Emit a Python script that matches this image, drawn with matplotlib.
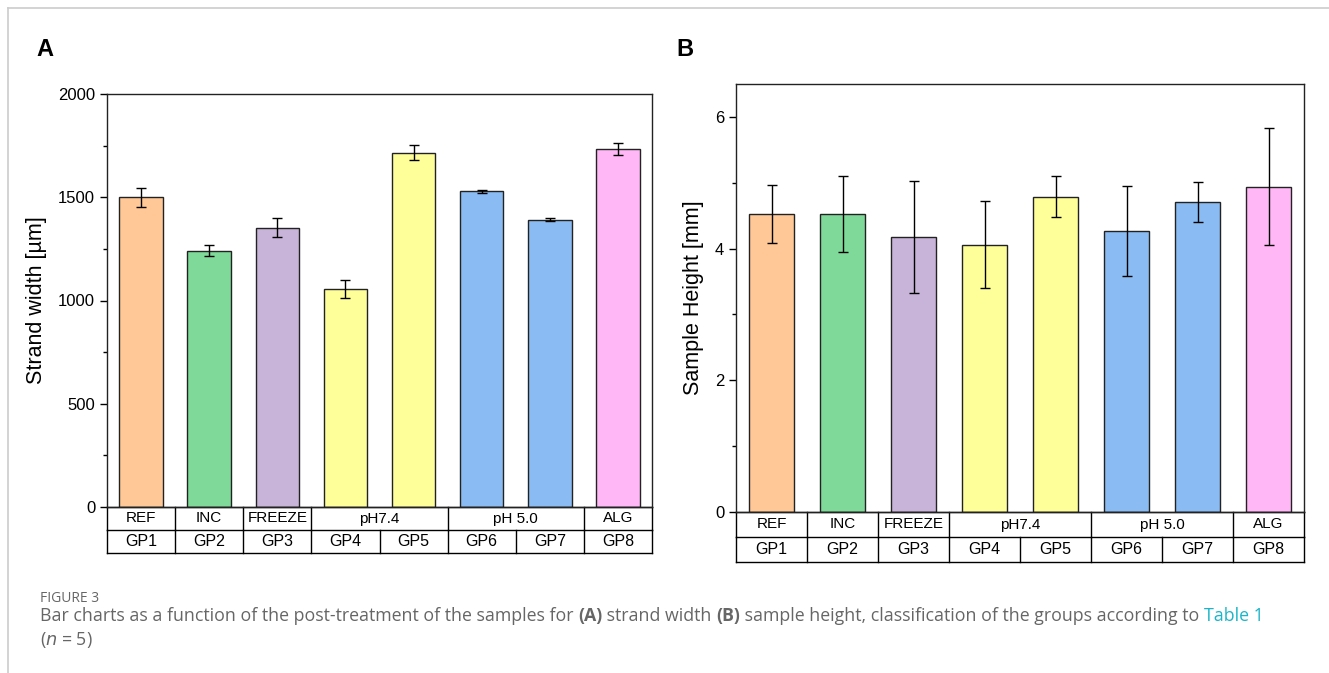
import matplotlib.pyplot as plt
from matplotlib.lines import Line2D

plt.rcParams['font.family'] = ['Liberation Sans', 'DejaVu Sans']

groups = ['GP1', 'GP2', 'GP3', 'GP4', 'GP5', 'GP6', 'GP7', 'GP8']
treatments = [('REF', 0, 1), ('INC', 1, 2), ('FREEZE', 2, 3), ('pH7.4', 3, 5),
              ('pH 5.0', 5, 7), ('ALG', 7, 8)]
colors = ['#FFC896', '#7FD999', '#C8B4D9', '#FFFF99', '#FFFF99',
          '#8ABBF3', '#8ABBF3', '#FFB8F5']

strand_width = [1500, 1242, 1352, 1057, 1716, 1529, 1392, 1734]
strand_err = [46, 28, 46, 44, 36, 8, 9, 31]

sample_height = [4.52, 4.53, 4.18, 4.06, 4.79, 4.27, 4.71, 4.94]
height_err = [0.44, 0.58, 0.85, 0.66, 0.31, 0.68, 0.30, 0.89]

W, H = 1329, 673
fig = plt.figure(figsize=(W / 100, H / 100), dpi=100)


def px_axes(l, t, r, b):
    return fig.add_axes([l / W, 1 - b / H, (r - l) / W, (b - t) / H])


def draw_panel(ax, vals, errs, ylim, major, minor, ylabel, row_h):
    x = list(range(len(groups)))
    ax.bar(x, vals, width=0.64, color=colors, edgecolor='#222222', linewidth=1.0, zorder=2)
    ax.errorbar(x, vals, yerr=errs, fmt='none', ecolor='black', elinewidth=1.0,
                capsize=3.5, capthick=1.0, zorder=3)
    ax.set_xlim(-0.5, 7.5)
    ax.set_ylim(*ylim)
    ax.set_yticks(major)
    ax.set_yticks(minor, minor=True)
    ax.set_xticks([])
    ax.tick_params(axis='y', which='major', direction='out', length=5, width=1, labelsize=12)
    ax.tick_params(axis='y', which='minor', direction='out', length=3, width=1)
    for s in ax.spines.values():
        s.set_linewidth(1.0)
        s.set_color('#222222')
    ax.set_ylabel(ylabel, fontsize=15.5, labelpad=8)

    # category table below the axis
    tr = ax.get_xaxis_transform()
    y1, y2 = -row_h, -2 * row_h
    for yy in (0, y1, y2):
        ax.add_line(Line2D([-0.5, 7.5], [yy, yy], transform=tr, color='black',
                           lw=1.0, clip_on=False))
    for xb in [-0.5, 7.5] + [t[2] - 0.5 for t in treatments[:-1]]:
        ax.add_line(Line2D([xb, xb], [0, y1], transform=tr, color='black',
                           lw=1.0, clip_on=False))
    for xb in [i - 0.5 for i in range(9)]:
        ax.add_line(Line2D([xb, xb], [y1, y2], transform=tr, color='black',
                           lw=1.0, clip_on=False))
    for name, a, b in treatments:
        ax.text((a + b - 1) / 2, y1 / 2, name, transform=tr, ha='center',
                va='center', fontsize=11)
    for i, g in enumerate(groups):
        ax.text(i, (y1 + y2) / 2, g, transform=tr, ha='center', va='center',
                fontsize=11.5)


axA = px_axes(107, 94, 652, 507)
draw_panel(axA, strand_width, strand_err, (0, 2000), [0, 500, 1000, 1500, 2000],
           [250, 750, 1250, 1750], 'Strand width [µm]', 23 / 413)

axB = px_axes(736, 84, 1304, 512)
draw_panel(axB, sample_height, height_err, (0, 6.5), [0, 2, 4, 6], [1, 3, 5],
           'Sample Height [mm]', 25 / 428)

fig.text(36 / W, 1 - 49 / H, 'A', fontsize=17, fontweight='bold', va='center')
fig.text(676 / W, 1 - 49 / H, 'B', fontsize=17, fontweight='bold', va='center')

# page frame lines
fig.add_artist(Line2D([7.5 / W, 7.5 / W], [0, 1 - 7.5 / H], transform=fig.transFigure,
                      color='#cccccc', lw=1.2))
fig.add_artist(Line2D([7.5 / W, 1], [1 - 7.5 / H, 1 - 7.5 / H], transform=fig.transFigure,
                      color='#cccccc', lw=1.2))

# caption
cap_font = ['Open Sans', 'DejaVu Sans']
gray = '#666666'
fig.text(40 / W, 1 - 598 / H, 'FIGURE 3', fontsize=10, color=gray, family=cap_font,
         va='center')
parts = [('Bar charts as a function of the post-treatment of the samples for ', gray, 'normal'),
         ('(A)', gray, 'bold'), (' strand width ', gray, 'normal'), ('(B)', gray, 'bold'),
         (' sample height, classification of the groups according to ', gray, 'normal'),
         ('Table 1', '#1AB5C8', 'normal')]
fig.canvas.draw()
r = fig.canvas.get_renderer()
xcur = 40
for txt, col, wt in parts:
    t = fig.text(xcur / W, 1 - 616 / H, txt, fontsize=12.8, color=col, fontweight=wt,
                 family=cap_font, va='center')
    bb = t.get_window_extent(renderer=r)
    xcur += bb.width
fig.text(40 / W, 1 - 640 / H, '($n$ = 5)', fontsize=12.8, color=gray, family=cap_font,
         va='center')

fig.savefig('out.png', dpi=100)
